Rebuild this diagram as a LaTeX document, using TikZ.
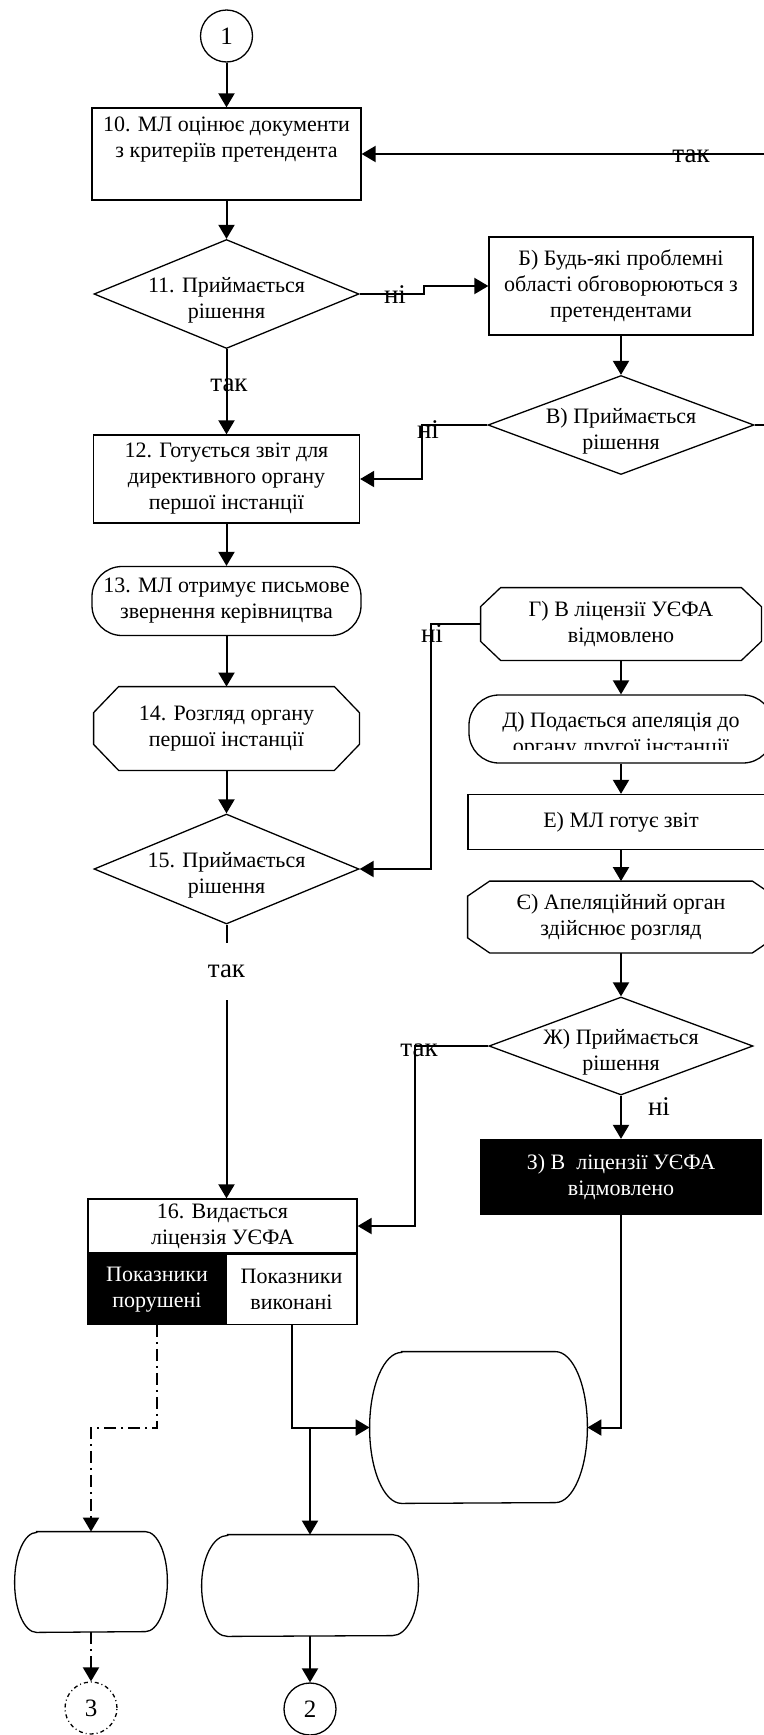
\documentclass[tikz,border=0pt]{standalone}
\usepackage{fontspec}
\setmainfont{Liberation Serif}
\usetikzlibrary{shapes.geometric,arrows.meta}

\tikzset{
	arr/.style={-{Triangle[length=7pt,width=8pt]}, line width=1pt},
	line/.style={line width=1pt},
	ddash/.style={line width=1pt, dash pattern=on 6pt off 2.5pt on 1pt off 2.5pt},
	box/.style={draw, rectangle, line width=0.65pt, align=center, inner sep=0pt},
	decision/.style={draw, diamond, line width=0.65pt, inner sep=0pt},
	dtext/.style={align=center, yshift=-3pt},
	holder/.style={rectangle, align=center, inner sep=0pt},
	conn/.style={draw, circle, line width=0.65pt, minimum size=26pt, inner sep=0pt, font=\fontsize{12.5}{15}\selectfont},
	lbl/.style={inner sep=0pt, font=\fontsize{13.5}{16}\selectfont}
}

% barrel outline round a named node: name, x radius, y radius
\newcommand\barrel[3]{%
	\draw[line width=0.65pt] ([xshift=#2]#1.north west) -- ([xshift=-#2]#1.north east)
		arc[start angle=90, end angle=-90, x radius=#2, y radius=#3]
		-- ([xshift=#2]#1.south west)
		arc[start angle=270, end angle=90, x radius=#2, y radius=#3] -- cycle;
}

% cut-corner outline round a named node: name, x cut, y cut
\newcommand\chamfer[3]{%
	\draw[line width=0.65pt] ([xshift=#2]#1.north west) -- ([xshift=-#2]#1.north east)
		-- ([yshift=-#3]#1.north east) -- ([yshift=#3]#1.south east)
		-- ([xshift=-#2]#1.south east) -- ([xshift=#2]#1.south west)
		-- ([yshift=#3]#1.south west) -- ([yshift=-#3]#1.north west) -- cycle;
}

\begin{document}
\begin{tikzpicture}[x=0.5pt, y=-0.5pt, font=\fontsize{11}{13}\selectfont]
	\useasboundingbox (0,0) rectangle (764,1735);

	% Left column
	\node[conn] (c1) at (226.5,36) {1};
	\node[box, minimum width=134.5pt, minimum height=46pt] (n10) at (226.5,154) {10. МЛ оцінює документи\\з критеріїв претендента\\[4pt]~};
	\node[decision, minimum width=132.5pt, minimum height=54.5pt, label={[dtext]center:11. Приймається\\рішення}] (d11) at (226.5,294) {};
	\node[box, minimum width=133pt, minimum height=44pt] (n12) at (226.5,479) {12. Готується звіт для\\директивного органу\\першої інстанції};
	\node[box, rounded corners=15pt, minimum width=134.5pt, minimum height=34.5pt] (n13) at (226.5,601) {13. МЛ отримує письмове\\звернення керівництва};
	\node[holder, minimum width=132.5pt, minimum height=41.5pt] (n14) at (226.5,728.5) {14. Розгляд органу\\першої інстанції};
	\chamfer{n14}{12.5pt}{13pt}
	\node[decision, minimum width=132.5pt, minimum height=55pt, label={[dtext]center:15. Приймається\\рішення}] (d15) at (226.5,869) {};
	\node[lbl, minimum height=28.5pt] (t15) at (226.5,971.5) {так};

	% Licence box
	\node[box, minimum width=134.5pt, minimum height=27pt] (n16) at (222.5,1226) {16. Видається\\ліцензія УЄФА};
	\node[box, fill=black, text=white, minimum width=69pt, minimum height=35pt, anchor=north west] (n16a) at (n16.south west) {Показники\\порушені};
	\node[box, minimum width=65.5pt, minimum height=35pt, anchor=north east] (n16b) at (n16.south east) {Показники\\виконані};

	% Right column
	\node[box, minimum width=132pt, minimum height=49pt] (nB) at (621,286) {Б) Будь-які проблемні\\області обговорюються з\\претендентами};
	\node[decision, minimum width=133pt, minimum height=49.5pt, label={[dtext]center:В) Приймається\\рішення}] (dV) at (621,425) {};
	\node[holder, minimum width=140pt, minimum height=36pt] (nG) at (621,624) {Г) В ліцензії УЄФА\\відмовлено};
	\chamfer{nG}{10pt}{9.5pt}
	\node[box, rounded corners=15pt, minimum width=152pt, minimum height=34pt] (nD) at (621,729) {};
	\begin{scope}
		\clip ([yshift=7pt]nD.south west) rectangle (nD.north east);
		\node[align=center] (tD) at ([yshift=-3pt]nD.center) {Д) Подається апеляція до\\органу другої інстанції};
	\end{scope}
	\node[box, minimum width=153pt, minimum height=27.5pt] (nE) at (621,822) {Е) МЛ готує звіт};
	\node[holder, minimum width=153pt, minimum height=35.5pt] (nYe) at (621,917) {Є) Апеляційний орган\\здійснює розгляд};
	\chamfer{nYe}{11pt}{7.5pt}
	\node[decision, minimum width=132pt, minimum height=49pt, label={[dtext]center:Ж) Приймається\\рішення}] (dZh) at (621,1046) {};
	\node[box, fill=black, text=white, minimum width=140pt, minimum height=37.5pt] (nZ) at (621,1177) {З) В~ ліцензії УЄФА\\відмовлено};

	% End blocks
	\node[holder, minimum width=108.5pt, minimum height=75.5pt] (eBig) at (478.5,1427.5) {};
	\node[holder, minimum width=76pt, minimum height=50pt] (eL) at (91,1582) {};
	\node[holder, minimum width=108pt, minimum height=50.5pt] (eM) at (310,1585.5) {};
	\barrel{eBig}{16pt}{37.75pt}
	\barrel{eL}{11pt}{25pt}
	\barrel{eM}{13pt}{25.25pt}
	\node[conn, dash pattern=on 2pt off 1.5pt on 0.5pt off 1.5pt] (c3) at (91,1708) {3};
	\node[conn] (c2) at (310,1709) {2};

	% Main line
	\draw[arr] (c1) -- (n10);
	\draw[arr] (n10) -- (d11);
	\draw[arr] (d11) -- (n12);
	\node[lbl] (t11) at (229,385) {так};
	\draw[arr] (n12) -- (n13);
	\draw[arr] (n13) -- (n14);
	\draw[arr] (n14) -- (d15);
	\draw[line] (d15.south) -- (t15.north);
	\draw[arr] (t15.south) -- (t15.south |- n16.north);

	% Discussion loop
	\draw[arr] (d11.east) -- ++(64,0) |- (nB.west);
	\node[lbl] (h11) at (395,295) {ні};
	\draw[arr] (nB) -- (dV);
	\draw[arr] (dV.west) -- ++(-65,0) |- (n12.east);
	\node[lbl] (hV) at (428,430) {ні};
	\draw[arr] (dV.east) -- ++(60,0) |- (n10.east);
	\node[lbl] (tV) at (691,156) {так};

	% Appeal
	\draw[arr] (nG.west) -- ++(-50,0) |- (d15.east);
	\node[lbl] (hG) at (432,634) {ні};
	\draw[arr] (nG) -- (nD);
	\draw[arr] (nD) -- (nE);
	\draw[arr] (nE) -- (nYe);
	\draw[arr] (nYe) -- (dZh);
	\draw[arr] (dZh.west) -- ++(-73,0) |- (n16.east);
	\node[lbl] (tZh) at (419,1050) {так};
	\draw[arr] (dZh) -- (nZ);
	\node[lbl] (hZh) at (659,1107) {ні};

	% To end blocks
	\draw[arr] (nZ.south) |- (eBig.east);
	\draw[arr] (n16b.south) |- (eBig.west);
	\draw[arr] (eM.north |- eBig.west) -- (eM.north);
	\draw[ddash, -{Triangle[length=7pt,width=8pt]}] (n16a.south) -- ++(0,103) -| (eL.north);
	\draw[ddash, -{Triangle[length=7pt,width=8pt]}] (eL.south) -- (c3.north);
	\draw[arr] (eM.south) -- (c2.north);
\end{tikzpicture}
\end{document}
